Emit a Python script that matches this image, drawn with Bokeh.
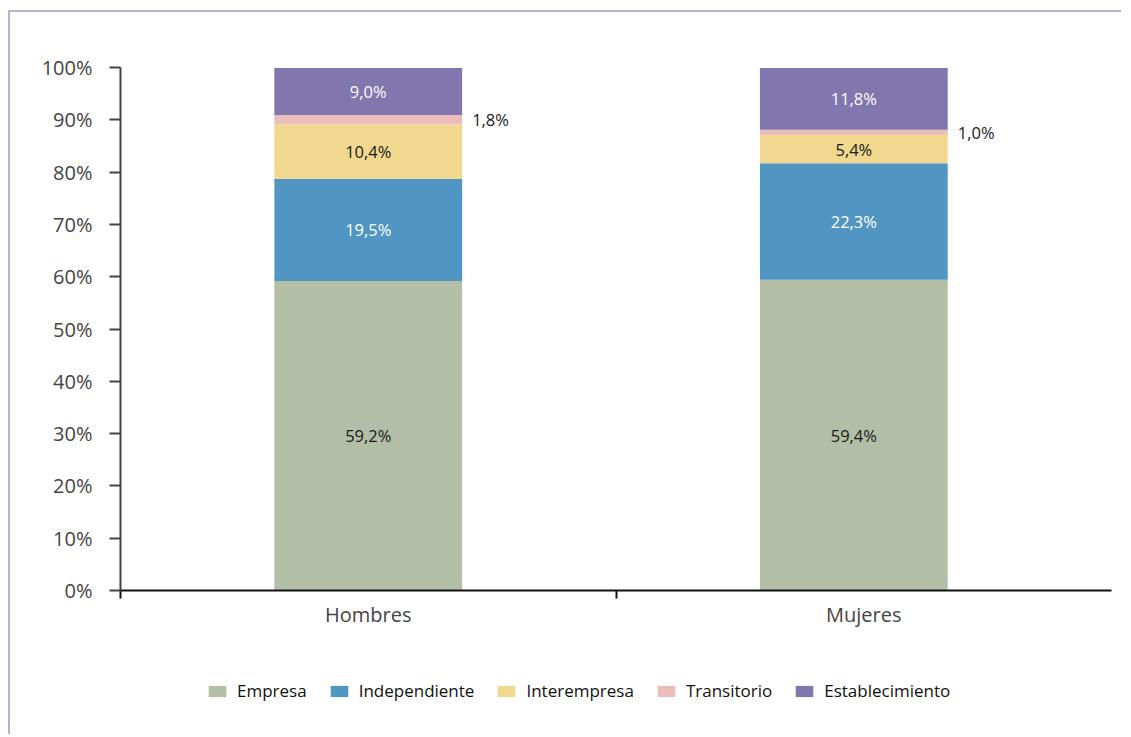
from bokeh.plotting import figure
from bokeh.layouts import column
from bokeh.models import (ColumnDataSource, FixedTicker, PrintfTickFormatter,
                          Legend, LegendItem, Range1d)
from bokeh.embed import file_html
from bokeh.resources import INLINE
from bokeh.core.properties import value

# ---- data ----
groups = ["Hombres", "Mujeres"]
series = ["Empresa", "Independiente", "Interempresa", "Transitorio", "Establecimiento"]
empresa = [59.2, 59.4]
independiente = [19.5, 22.3]
interempresa = [10.4, 5.4]
transitorio = [1.8, 1.0]
establecimiento = [9.0, 11.8]
y_ticks = [0, 10, 20, 30, 40, 50, 60, 70, 80, 90, 100]

values = [empresa, independiente, interempresa, transitorio, establecimiento]
colors = ["#b3bea6", "#5196c2", "#f0d88f", "#ebbdbb", "#8276ae"]
label_colors = ["#1a1a1a", "#ffffff", "#1a1a1a", "#1a1a1a", "#ffffff"]
outside = [False, False, False, True, False]

xpos = [0.5, 1.48]
bar_w = 0.379

FONT = "Open Sans"

p = figure(width=1111, height=638, output_backend="svg", toolbar_location=None,
           x_range=Range1d(0, 2), y_range=Range1d(0, 100),
           min_border_left=110, min_border_top=55, min_border_right=10,
           min_border_bottom=60)
p.outline_line_color = None
p.xgrid.visible = False
p.ygrid.visible = False

# stacked bars
bottoms = [0.0, 0.0]
text_rows = {"x": [], "y": [], "t": [], "c": [], "xo": [], "align": []}
for name, vals, col, lc, out in zip(series, values, colors, label_colors, outside):
    tops = [b + v for b, v in zip(bottoms, vals)]
    src = ColumnDataSource(dict(x=xpos, bottom=bottoms, top=tops))
    p.vbar(x="x", bottom="bottom", top="top", width=bar_w, source=src,
           fill_color=col, line_color=None)
    for i in range(len(groups)):
        mid = (bottoms[i] + tops[i]) / 2
        lab = ("%.1f" % vals[i]).replace(".", ",") + "%"
        if out:
            text_rows["x"].append(xpos[i] + bar_w / 2)
            text_rows["xo"].append(10)
            text_rows["align"].append("left")
        else:
            text_rows["x"].append(xpos[i])
            text_rows["xo"].append(0)
            text_rows["align"].append("center")
        text_rows["y"].append(mid)
        text_rows["t"].append(lab)
        text_rows["c"].append(lc)
    bottoms = tops

tsrc = ColumnDataSource(text_rows)
p.text(x="x", y="y", text="t", text_color="c", x_offset="xo", text_align="align",
       text_baseline="middle", text_font=value(FONT), text_font_size="16.5px",
       source=tsrc)

# y axis
p.yaxis.ticker = FixedTicker(ticks=y_ticks, minor_ticks=[])
p.yaxis.formatter = PrintfTickFormatter(format="%d%%")
p.yaxis.axis_line_color = "#444444"
p.yaxis.axis_line_width = 2
p.yaxis.major_tick_line_color = "#444444"
p.yaxis.major_tick_line_width = 2
p.yaxis.major_tick_out = 11
p.yaxis.major_tick_in = 0
p.yaxis.minor_tick_line_color = None
p.yaxis.major_label_standoff = 17
p.yaxis.major_label_text_font = FONT
p.yaxis.major_label_text_font_size = "20px"
p.yaxis.major_label_text_color = "#444444"

# x axis
p.xaxis.ticker = FixedTicker(ticks=[0.5, 1.5], minor_ticks=[0, 1])
p.xaxis.major_label_overrides = {0.5: groups[0], 1.5: groups[1]}
p.xaxis.axis_line_color = "#111111"
p.xaxis.axis_line_width = 2
p.xaxis.major_tick_line_color = None
p.xaxis.major_tick_out = 0
p.xaxis.major_tick_in = 0
p.xaxis.minor_tick_line_color = "#111111"
p.xaxis.minor_tick_line_width = 2
p.xaxis.minor_tick_out = 8
p.xaxis.minor_tick_in = 0
p.xaxis.major_label_standoff = 2
p.xaxis.major_label_text_font = FONT
p.xaxis.major_label_text_font_size = "20px"
p.xaxis.major_label_text_color = "#444444"

# legend strip (separate figure below the chart; its frame aligns with the chart's)
lg = figure(width=1111, height=84, output_backend="svg", toolbar_location=None,
            x_range=Range1d(0, 1), y_range=Range1d(0, 1),
            x_axis_location=None, y_axis_location=None,
            min_border=0, min_border_left=0, min_border_right=0,
            min_border_top=0, min_border_bottom=0)
lg.outline_line_color = None
lg.xgrid.visible = False
lg.ygrid.visible = False
items = []
for name, col in zip(series, colors):
    # zero-height placeholder bar so that the legend key is drawn
    r = lg.vbar(x=[0.5], bottom=[0], top=[0], width=0.1, fill_color=col, line_color=None)
    items.append(LegendItem(label=name, renderers=[r]))
legend = Legend(items=items, orientation="horizontal", location=(86, 32),
                padding=0, margin=0, spacing=21, label_standoff=9,
                glyph_width=22, glyph_height=14,
                border_line_alpha=0, background_fill_alpha=0,
                label_text_font=FONT,
                label_text_font_size="17px", label_text_color="#111111")
lg.add_layout(legend, "center")

layout = column(p, lg, spacing=0,
                styles={"border-top": "2px solid #b7b1d5",
                        "border-left": "2px solid #b7b1d5",
                        "margin-top": "10px", "margin-left": "8px"})

open("out.html", "w").write(file_html(layout, INLINE))
